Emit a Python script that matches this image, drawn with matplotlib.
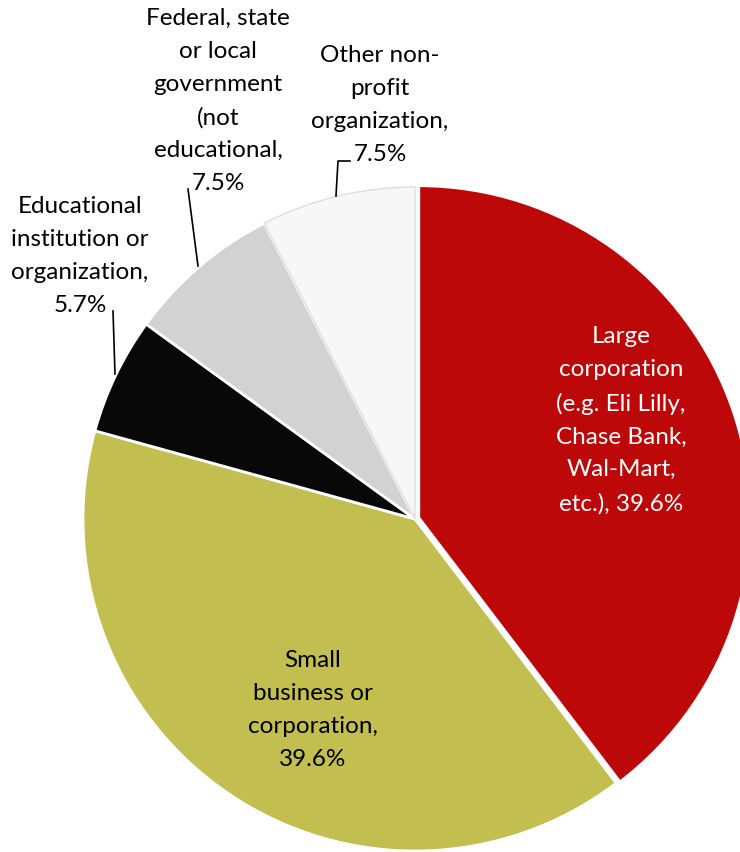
import matplotlib.pyplot as plt

W, H = 740, 853

labels = ['Large\ncorporation\n(e.g. Eli Lilly,\nChase Bank,\nWal-Mart,\netc.), 39.6%',
          'Small\nbusiness or\ncorporation,\n39.6%',
          'Educational\ninstitution or\norganization,\n5.7%',
          'Federal, state\nor local\ngovernment\n(not\neducational,\n7.5%',
          'Other non-\nprofit\norganization,\n7.5%']
values = [39.6, 39.6, 5.7, 7.5, 7.5]
colors = ['#BC0808', '#C2BE50', '#080808', '#D2D2D2', '#F7F7F7']

# label centres in pixel coordinates (top-left origin)
label_pos = [(621, 420), (313, 710), (80, 256), (218, 101), (380, 105)]
# leader lines (pixels)
leaders = [None, None,
           [(115, 375), (113, 312)],
           [(198, 267), (188, 190)],
           [(336, 197), (338, 162), (350, 162)]]

plt.rcParams['font.family'] = ['Lato', 'DejaVu Sans']

fig = plt.figure(figsize=(W / 100, H / 100), dpi=100)
ax = fig.add_axes([0, 0, 1, 1])

cx, cy, r = 415, H - 520, 332
wedges, _ = ax.pie(values, colors=colors, startangle=90, counterclock=False,
                   center=(cx, cy), radius=r, explode=[4, 0, 0, 0, 0],
                   wedgeprops=dict(edgecolor='white', linewidth=2),
                   frame=True)
wedges[4].set_edgecolor('#DDDDDD')
wedges[4].set_linewidth(1)
ax.set_xlim(0, W)
ax.set_ylim(0, H)
ax.axis('off')

for i, lab in enumerate(labels):
    x, y = label_pos[i]
    ax.text(x, H - y, lab, ha='center', va='center', fontsize=17.5,
            linespacing=1.7, color='black' if i != 0 else 'white')
    if leaders[i]:
        xs = [p[0] for p in leaders[i]]
        ys = [H - p[1] for p in leaders[i]]
        ax.plot(xs, ys, color='black', lw=1.2)

fig.savefig('out.png', dpi=100)
